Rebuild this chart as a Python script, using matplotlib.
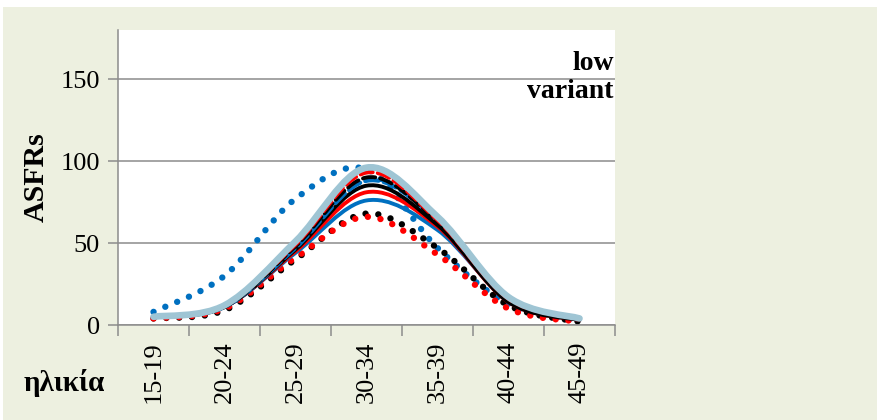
import numpy as np
import matplotlib.pyplot as plt
from matplotlib.path import Path
from matplotlib.patches import PathPatch, Rectangle

# age-specific fertility rates by age group, low variant
age_groups = ['15-19', '20-24', '25-29', '30-34', '35-39', '40-44', '45-49']

blue_dotted = [8, 30, 77, 95, 47, 13, 3]
red_dotted = [4, 10, 41, 66, 43, 10, 2]
black_dotted = [4, 9, 40, 68, 47, 12, 2]
blue_solid = [5, 11, 44, 76, 58, 15, 3]
red_solid = [5, 11, 45, 81, 60, 14, 3]
black_solid = [5, 11, 46, 85, 61, 14, 3]
blue_dashed = [5, 11, 47, 88, 64, 16, 4]
red_dashed = [5, 12, 49, 93, 64, 16, 4]
black_dashed = [5, 11, 48, 90, 63, 15, 4]
grey_blue = [5, 12, 51, 96, 66, 17, 4]

BLUE, RED, BLACK, GREYBLUE = '#0070C0', '#FF0000', '#000000', '#9FC5D4'
DOT = (0, (0.01, 2.0))
DASH = (0, (3.2, 1.3))

series = [
    (blue_dotted, BLUE, 4.6, DOT),
    (black_dotted, BLACK, 4.6, DOT),
    (red_dotted, RED, 4.6, DOT),
    (blue_solid, BLUE, 2.8, '-'),
    (red_solid, RED, 2.8, '-'),
    (black_solid, BLACK, 2.8, '-'),
    (blue_dashed, BLUE, 3.0, DASH),
    (black_dashed, BLACK, 2.8, DASH),
    (red_dashed, RED, 2.8, DASH),
    (grey_blue, GREYBLUE, 4.8, '-'),
]


def smooth_path(xs, ys):
    # smoothed chart line: cubic bezier segments through every point
    pts = np.column_stack([xs, ys]).astype(float)
    ext = np.vstack([pts[0], pts, pts[-1]])
    verts, codes = [pts[0]], [Path.MOVETO]
    for i in range(len(pts) - 1):
        p0, p1, p2, p3 = ext[i], ext[i + 1], ext[i + 2], ext[i + 3]
        verts += [p1 + (p2 - p0) / 6, p2 - (p3 - p1) / 6, p2]
        codes += [Path.CURVE4] * 3
    return Path(verts, codes)


plt.rcParams['font.family'] = ['Liberation Serif', 'DejaVu Serif']

fig = plt.figure(figsize=(8.77, 4.2), dpi=100)
fig.patch.set_facecolor('#EDF0E0')
fig.patches.append(Rectangle((0, 1 - 7 / 420), 1, 7 / 420, transform=fig.transFigure,
                             facecolor='white', edgecolor='none', zorder=0))
fig.patches.append(Rectangle((0, 0), 3 / 877, 1, transform=fig.transFigure,
                             facecolor='white', edgecolor='none', zorder=0))

ax = fig.add_axes([118 / 877, 1 - 325 / 420, 497 / 877, 295 / 420])
ax.set_facecolor('white')

x = np.arange(len(age_groups))
for vals, color, lw, ls in series:
    ax.add_patch(PathPatch(smooth_path(x, vals), fill=False, edgecolor=color, lw=lw,
                           linestyle=ls, capstyle='round', joinstyle='round'))

ax.set_xlim(-0.5, len(age_groups) - 0.5)
ax.set_ylim(0, 180)

ax.set_yticks([0, 50, 100, 150])
ax.yaxis.grid(True, color='#8C8C8C', lw=1.1)
ax.set_axisbelow(True)
ax.tick_params(axis='y', length=7, width=1.1, color='#8C8C8C', labelsize=19, pad=6)

ax.set_xticks(np.arange(-0.5, len(age_groups)), labels=[])
ax.set_xticks(x, labels=age_groups, minor=True)
ax.tick_params(axis='x', which='major', length=8, width=1.1, color='#8C8C8C')
ax.tick_params(axis='x', which='minor', length=0, labelsize=19, labelrotation=90, pad=12)

for side in ['top', 'right']:
    ax.spines[side].set_visible(False)
for side in ['left', 'bottom']:
    ax.spines[side].set_color('#8C8C8C')
    ax.spines[side].set_linewidth(1.1)

ax.set_ylabel('ASFRs', fontsize=21.5, fontweight='bold', labelpad=8)
fig.text(24 / 877, 1 - 383 / 420, 'ηλικία', fontsize=21, fontweight='bold',
         ha='left', va='center')
ax.text(0.997, 0.93, 'low\nvariant', transform=ax.transAxes, ha='right', va='top',
        fontsize=20, fontweight='bold', linespacing=1.2)

fig.savefig('out.png', dpi=100, facecolor=fig.get_facecolor())
